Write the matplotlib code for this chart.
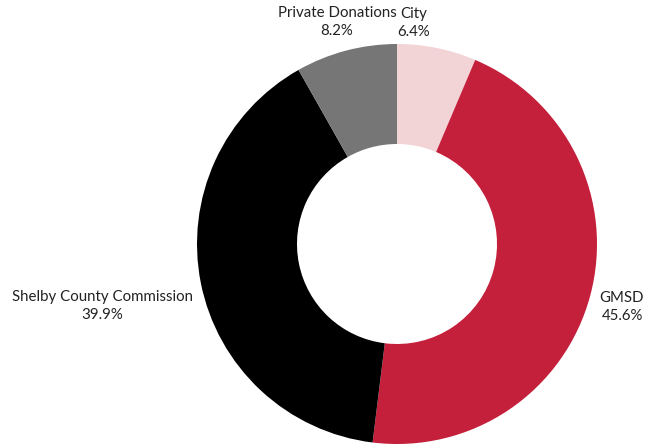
import matplotlib
matplotlib.use("Agg")
import matplotlib.pyplot as plt

labels = ["City", "GMSD", "Shelby County Commission", "Private Donations"]
values = [6.4, 45.6, 39.9, 8.2]
colors = ["#F2D4D7", "#C41F3B", "#000000", "#767676"]
# label anchor positions (pixel coords, y from top)
label_pos = [(414, 23), (622, 307), (102, 306), (337, 22)]

plt.rcParams['font.family'] = ['Lato', 'DejaVu Sans']

W, H = 653, 447
fig = plt.figure(figsize=(W/100, H/100), dpi=100)
ax = fig.add_axes([0, 0, 1, 1])
ax.set_xlim(0, W)
ax.set_ylim(0, H)
ax.set_aspect('equal')
ax.axis('off')

ax.pie(values, colors=colors, startangle=90, counterclock=False,
       center=(397, H - 244), radius=200,
       wedgeprops=dict(width=100, linewidth=0))
ax.set_xlim(0, W)
ax.set_ylim(0, H)

for lab, v, (x, y) in zip(labels, values, label_pos):
    ax.text(x, H - y, f"{lab}\n{v}%", ha='center', va='center',
            fontsize=10.8, color='#222222', linespacing=1.3)

fig.savefig("out.png", dpi=100)
